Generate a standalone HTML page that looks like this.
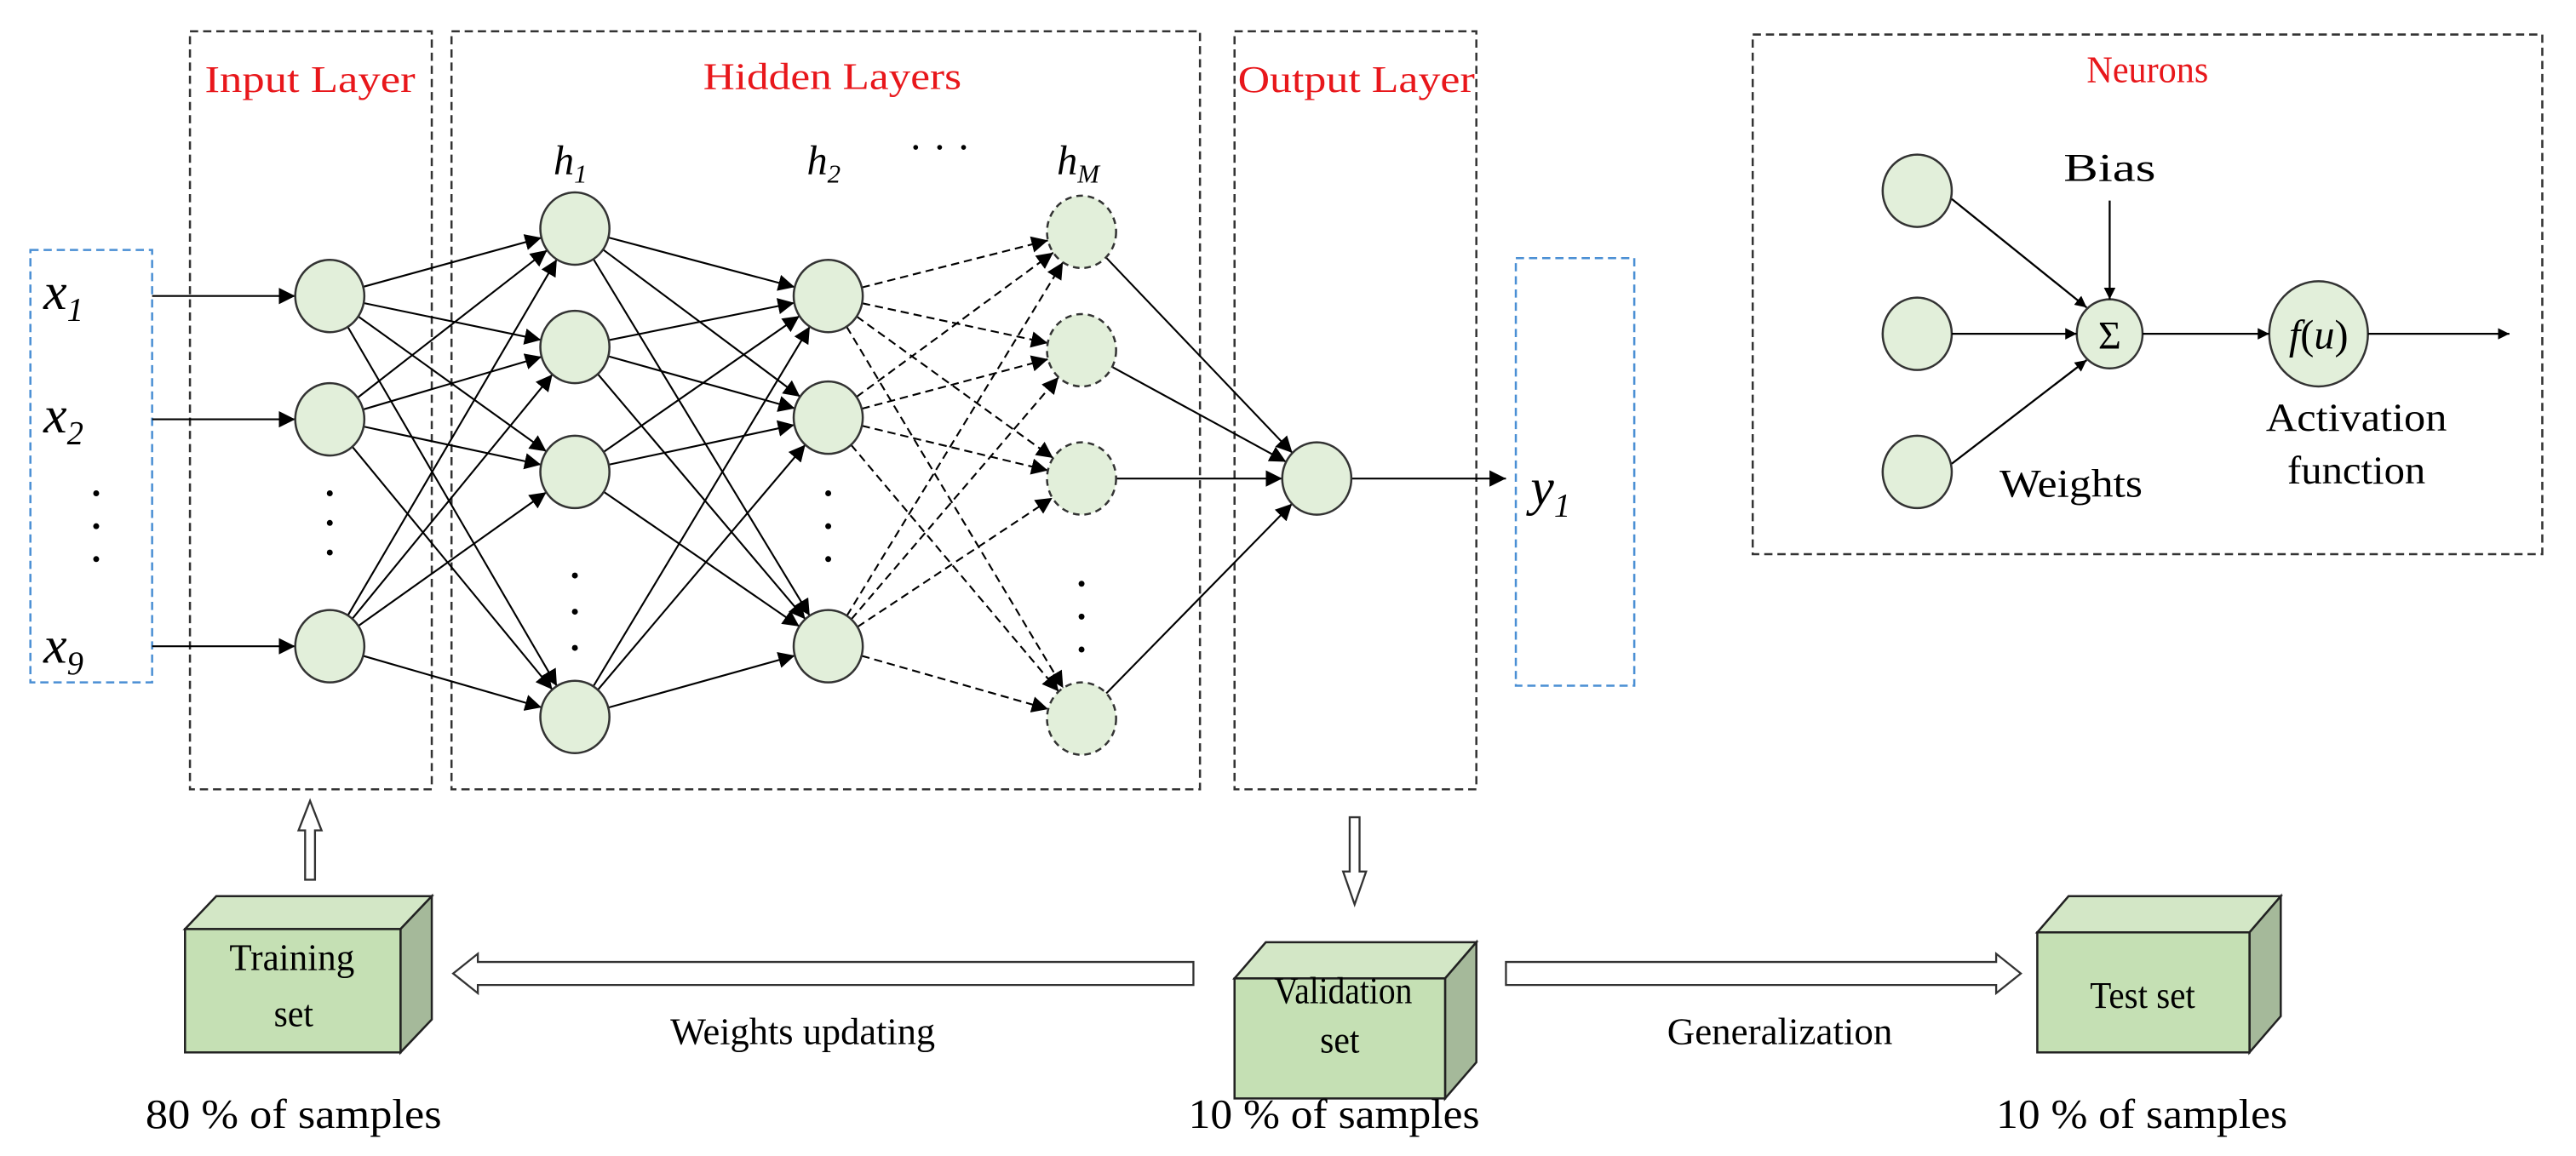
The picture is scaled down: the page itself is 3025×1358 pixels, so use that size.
<!DOCTYPE html>
<html><head><meta charset="utf-8"><style>
html,body{margin:0;padding:0;background:#fff;}
svg{display:block;}
text{font-family:"Liberation Serif",serif;}
</style></head><body>
<svg id="s" width="3025" height="1358" viewBox="0 0 1565 703" xmlns="http://www.w3.org/2000/svg">
<defs>
<marker id="a" viewBox="0 0 10 10" refX="10" refY="5" markerWidth="7" markerHeight="7" orient="auto" markerUnits="userSpaceOnUse"><path d="M0,0 L10,5 L0,10 z" fill="#000"/></marker>
<marker id="b" viewBox="0 0 10 10" refX="10" refY="5" markerWidth="10" markerHeight="10" orient="auto" markerUnits="userSpaceOnUse"><path d="M0,0 L10,5 L0,10 z" fill="#000"/></marker>
</defs>
<g fill="none" stroke="#333" stroke-width="1.3" stroke-dasharray="5,3">
<rect x="115" y="19" width="147" height="461"/>
<rect x="274" y="19" width="455" height="461"/>
<rect x="750" y="19" width="147" height="461"/>
<rect x="1065" y="21" width="480" height="316"/>
</g>
<g fill="none" stroke="#4a8fd4" stroke-width="1.3" stroke-dasharray="5,3">
<rect x="18" y="152" width="74" height="263"/>
<rect x="921" y="157" width="72" height="260"/>
</g>
<g fill="#e8171b" font-size="23" lengthAdjust="spacingAndGlyphs">
<text x="124" y="56" textLength="128" lengthAdjust="spacingAndGlyphs">Input Layer</text>
<text x="427" y="54" textLength="157" lengthAdjust="spacingAndGlyphs">Hidden Layers</text>
<text x="752" y="56" textLength="144" lengthAdjust="spacingAndGlyphs">Output Layer</text>
<text x="1268" y="50" textLength="74" lengthAdjust="spacingAndGlyphs">Neurons</text>
</g>
<g font-style="italic" font-size="32" fill="#000">
<text x="26" y="188">x<tspan font-size="20" dy="7">1</tspan></text>
<text x="26" y="263">x<tspan font-size="20" dy="7">2</tspan></text>
<text x="26" y="403">x<tspan font-size="20" dy="7">9</tspan></text>
<text x="930" y="307">y<tspan font-size="20" dy="7">1</tspan></text>
</g>
<g font-style="italic" font-size="25" fill="#000">
<text x="336" y="106">h<tspan font-size="16" dy="5">1</tspan></text>
<text x="490" y="106">h<tspan font-size="16" dy="5">2</tspan></text>
<text x="642" y="106">h<tspan font-size="16" dy="5">M</tspan></text>
<text x="552" y="98" font-style="normal">· · ·</text>
</g>
<g id="lines"></g>
<g id="nodes"></g>
<g fill="#000" id="dots"></g>
<g fill="#e2efda" stroke="#333" stroke-width="1.3">
<ellipse cx="1165" cy="116" rx="21" ry="22"/>
<ellipse cx="1165" cy="203" rx="21" ry="22"/>
<ellipse cx="1165" cy="287" rx="21" ry="22"/>
<ellipse cx="1282" cy="203" rx="20" ry="21"/>
<ellipse cx="1409" cy="203" rx="30" ry="32"/>
</g>
<g stroke="#000" stroke-width="1.2" fill="none">
<line x1="1186" y1="121" x2="1268" y2="187" marker-end="url(#a)"/>
<line x1="1186" y1="203" x2="1262" y2="203" marker-end="url(#a)"/>
<line x1="1186" y1="282" x2="1268" y2="219" marker-end="url(#a)"/>
<line x1="1282" y1="122" x2="1282" y2="182" marker-end="url(#a)"/>
<line x1="1302" y1="203" x2="1379" y2="203" marker-end="url(#a)"/>
<line x1="1439" y1="203" x2="1525" y2="203" marker-end="url(#a)"/>
</g>
<g font-size="24" fill="#000">
<text x="1254" y="110" textLength="56" lengthAdjust="spacingAndGlyphs">Bias</text>
<text x="1282" y="212" text-anchor="middle" font-family="DejaVu Sans" font-size="24">Σ</text>
<text x="1409" y="212" text-anchor="middle" font-style="italic" font-size="25">f<tspan font-style="normal">(</tspan>u<tspan font-style="normal">)</tspan></text>
<text x="1215" y="302" textLength="87" lengthAdjust="spacingAndGlyphs">Weights</text>
<text x="1377" y="262" textLength="110" lengthAdjust="spacingAndGlyphs">Activation</text>
<text x="1390" y="294" textLength="84" lengthAdjust="spacingAndGlyphs">function</text>
</g>
<g fill="#fff" stroke="#333" stroke-width="1.2">
<path d="M185,535 L185,505 L181,505 L188,487 L195,505 L191,505 L191,535 Z"/>
<path d="M820,497 L820,530 L816,530 L823,550 L830,530 L826,530 L826,497 Z"/>
<path d="M725,585 L290,585 L290,580 L275,592 L290,604 L290,599 L725,599 Z"/>
<path d="M915,585 L1213,585 L1213,580 L1228,592 L1213,604 L1213,599 L915,599 Z"/>
</g>
<g stroke="#222" stroke-width="1.3">
<path d="M112,565 L131,545 L262,545 L243,565 Z" fill="#d3e7c6"/>
<path d="M243,565 L262,545 L262,620 L243,640 Z" fill="#a5b99a"/>
<rect x="112" y="565" width="131" height="75" fill="#c5e0b4"/>
<path d="M750,595 L769,573 L897,573 L878,595 Z" fill="#d3e7c6"/>
<path d="M878,595 L897,573 L897,646 L878,668 Z" fill="#a5b99a"/>
<rect x="750" y="595" width="128" height="73" fill="#c5e0b4"/>
<path d="M1238,567 L1257,545 L1386,545 L1367,567 Z" fill="#d3e7c6"/>
<path d="M1367,567 L1386,545 L1386,618 L1367,640 Z" fill="#a5b99a"/>
<rect x="1238" y="567" width="129" height="73" fill="#c5e0b4"/>
</g>
<g font-size="23" fill="#000">
<text x="139" y="590" textLength="76" lengthAdjust="spacingAndGlyphs">Training</text>
<text x="166" y="624" textLength="24" lengthAdjust="spacingAndGlyphs">set</text>
<text x="774" y="610" textLength="84" lengthAdjust="spacingAndGlyphs">Validation</text>
<text x="802" y="640" textLength="24" lengthAdjust="spacingAndGlyphs">set</text>
<text x="1270" y="613" textLength="64" lengthAdjust="spacingAndGlyphs">Test set</text>
<text x="407" y="635" textLength="161" lengthAdjust="spacingAndGlyphs">Weights updating</text>
<text x="1013" y="635" textLength="137" lengthAdjust="spacingAndGlyphs">Generalization</text>
<text x="88" y="686" font-size="25" textLength="180" lengthAdjust="spacingAndGlyphs">80 % of samples</text>
<text x="722" y="686" font-size="25" textLength="177" lengthAdjust="spacingAndGlyphs">10 % of samples</text>
<text x="1213" y="686" font-size="25" textLength="177" lengthAdjust="spacingAndGlyphs">10 % of samples</text>
</g>
<script>
(function(){
var NS="http://www.w3.org/2000/svg";
var L=document.getElementById("lines"),N=document.getElementById("nodes"),D=document.getElementById("dots");
var I=[[200,180],[200,255],[200,393]];
var H1=[[349,139],[349,211],[349,287],[349,436]];
var H2=[[503,180],[503,254],[503,393]];
var HM=[[657,141],[657,213],[657,291],[657,437]];
var O=[[800,291]];
var rx=21,ry=22;
function line(a,b,dash){
 var dx=b[0]-a[0],dy=b[1]-a[1],len=Math.sqrt(dx*dx+dy*dy),ux=dx/len,uy=dy/len;
 var t=1/Math.sqrt((ux*ux)/(rx*rx)+(uy*uy)/(ry*ry));
 var l=document.createElementNS(NS,"line");
 l.setAttribute("x1",a[0]+ux*t);l.setAttribute("y1",a[1]+uy*t);
 l.setAttribute("x2",b[0]-ux*t);l.setAttribute("y2",b[1]-uy*t);
 l.setAttribute("stroke","#000");l.setAttribute("stroke-width","1.1");
 if(dash)l.setAttribute("stroke-dasharray","5,3");
 l.setAttribute("marker-end","url(#b)");
 L.appendChild(l);
}
function all(A,B,d){A.forEach(function(a){B.forEach(function(b){line(a,b,d);});});}
all(I,H1);all(H1,H2);all(H2,HM,true);all(HM,O);
[[92,180],[92,255],[92,393]].forEach(function(p,i){
 var l=document.createElementNS(NS,"line");
 l.setAttribute("x1",p[0]);l.setAttribute("y1",p[1]);l.setAttribute("x2",I[i][0]-rx);l.setAttribute("y2",p[1]);
 l.setAttribute("stroke","#000");l.setAttribute("stroke-width","1.1");l.setAttribute("marker-end","url(#b)");L.appendChild(l);
});
var l=document.createElementNS(NS,"line");
l.setAttribute("x1",821);l.setAttribute("y1",291);l.setAttribute("x2",915);l.setAttribute("y2",291);
l.setAttribute("stroke","#000");l.setAttribute("stroke-width","1.1");l.setAttribute("marker-end","url(#b)");L.appendChild(l);
function node(p,dash){
 var e=document.createElementNS(NS,"ellipse");
 e.setAttribute("cx",p[0]);e.setAttribute("cy",p[1]);e.setAttribute("rx",rx);e.setAttribute("ry",ry);
 e.setAttribute("fill","#e2efda");e.setAttribute("stroke","#333");e.setAttribute("stroke-width","1.3");
 if(dash)e.setAttribute("stroke-dasharray","4,3");
 N.appendChild(e);
}
I.concat(H1,H2,O).forEach(function(p){node(p);});HM.forEach(function(p){node(p,true);});
[[58,300],[58,320],[58,340],[200,300],[200,318],[200,336],[349,350],[349,372],[349,394],[503,300],[503,320],[503,340],[657,355],[657,375],[657,395]].forEach(function(p){
 var c=document.createElementNS(NS,"circle");c.setAttribute("cx",p[0]);c.setAttribute("cy",p[1]);c.setAttribute("r",1.8);D.appendChild(c);
});
})();
</script>
</svg>
</body></html>
